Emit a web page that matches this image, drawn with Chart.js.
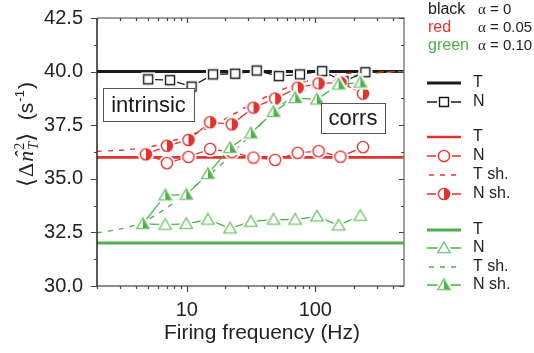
<!DOCTYPE html>
<html lang="en">
<head>
<meta charset="UTF-8">
<title>Variance vs firing frequency</title>
<script src="https://cdn.jsdelivr.net/npm/chart.js"></script>
<style>
  body { margin: 0; background: #fff; }
</style>
</head>
<body>
<canvas id="varChart" width="534" height="353"></canvas>
<script>
// axis ranges and tick labels
const xRange = [2, 490];
const xTickLabels = [10, 100];
const yTickLabels = [30.0, 32.5, 35.0, 37.5, 40.0, 42.5];

// firing frequencies (Hz) of the plotted points, per colour
const freqBlack = [5, 7.4, 10.9, 16, 23.8, 35, 52, 76, 113, 166, 245];
const freqRed = [4.8, 7, 10.3, 15.2, 22.4, 33, 48.7, 73, 106, 157, 235];
const freqGreen = [4.55, 6.8, 9.9, 14.6, 21.7, 31.5, 47.3, 69.8, 103, 152, 224];

// theory levels (T), flat in frequency
const tBlack = 40.0;
const tRed = 36.0;
const tGreen = 32.0;

// numerical values (N)
const nBlack = [39.64, 39.60, 39.30, 39.87, 39.90, 40.05, 39.79, 39.87, 40.02, 39.55, 39.97];
const nRed = [36.18, 35.73, 36.02, 36.39, 36.24, 35.99, 35.88, 36.21, 36.29, 36.03, 36.48];
const nGreen = [32.90, 32.86, 32.90, 33.10, 32.69, 33.00, 33.10, 33.10, 33.25, 32.83, 33.28];

// shuffled (sh.) theory curves and numerics
const freqTsh = [2, 3, 4, 5, 7, 10, 15, 20, 30, 50, 70, 100, 150, 200, 300, 490];
const tShRed = [36.28, 36.33, 36.40, 36.47, 36.70, 36.98, 37.40, 37.80, 38.40, 39.05, 39.40, 39.66, 39.85, 39.93, 39.98, 40.0];
const tShGreen = [32.48, 32.65, 32.85, 33.10, 33.65, 34.35, 35.20, 35.85, 36.95, 38.25, 38.90, 39.30, 39.62, 39.80, 39.93, 40.0];
const nShRed = [36.14, 36.54, 36.81, 37.64, 37.54, 38.32, 38.74, 39.25, 39.45, 39.49, 38.97];
const nShGreen = [32.90, 34.23, 34.26, 35.23, 36.44, 37.12, 38.12, 38.77, 38.70, 39.40, 39.49];

const BLACK = '#1a1a1a';
const RED = '#e5312c';
const GREEN = '#4caf4a';
const GREEN_LIGHT = '#74c56f';
const SANS = '"Liberation Sans", Arial, sans-serif';
const SERIF = '"Liberation Serif", "DejaVu Serif", serif';

function pairs(xs, ys) {
  return xs.map((x, i) => ({ x: x, y: ys[i] }));
}

// marker images with a white halo so lines stop short of the symbol
function marker(kind, color, fillHalf, outline) {
  const s = 20, m = s / 2;
  const c = document.createElement('canvas');
  c.width = s; c.height = s;
  const g = c.getContext('2d');
  function shape() {
    g.beginPath();
    if (kind === 'square') {
      g.rect(m - 4.5, m - 4.5, 9, 9);
    } else if (kind === 'circle') {
      g.arc(m, m, 5.6, 0, Math.PI * 2);
    } else {
      g.moveTo(m, m - 6);
      g.lineTo(m + 6.2, m + 4.6);
      g.lineTo(m - 6.2, m + 4.6);
      g.closePath();
    }
  }
  shape();
  g.fillStyle = '#fff';
  g.strokeStyle = '#fff';
  g.lineWidth = 5;
  g.stroke();
  g.fill();
  if (fillHalf) {
    g.beginPath();
    if (kind === 'circle') {
      g.arc(m, m, 5.6, -Math.PI / 2, Math.PI / 2);
    } else {
      g.moveTo(m, m - 6);
      g.lineTo(m + 6.2, m + 4.6);
      g.lineTo(m, m + 4.6);
    }
    g.closePath();
    g.fillStyle = color;
    g.fill();
  }
  shape();
  g.strokeStyle = outline || color;
  g.lineWidth = 1.4;
  g.stroke();
  return c;
}

const mkSquare = marker('square', BLACK, false);
const mkCircle = marker('circle', RED, false);
const mkCircleHalf = marker('circle', RED, true);
const mkTri = marker('triangle', GREEN, false, GREEN_LIGHT);
const mkTriHalf = marker('triangle', GREEN, true, GREEN_LIGHT);

const flat = v => [{ x: xRange[0], y: v }, { x: xRange[1], y: v }];

const datasets = [
  { label: 'black T', data: flat(tBlack), borderColor: BLACK, borderWidth: 3, pointRadius: 0, order: 10 },
  { label: 'black N', data: pairs(freqBlack, nBlack), borderColor: BLACK, borderWidth: 1.3, pointStyle: mkSquare, pointRadius: 6, order: 5 },
  { label: 'red T', data: flat(tRed), borderColor: RED, borderWidth: 2.6, pointRadius: 0, order: 10 },
  { label: 'red N', data: pairs(freqRed, nRed), borderColor: RED, borderWidth: 1.3, pointStyle: mkCircle, pointRadius: 6, order: 4 },
  { label: 'red T sh.', data: pairs(freqTsh, tShRed), borderColor: RED, borderWidth: 1.4, borderDash: [5, 6], pointRadius: 0, tension: 0.3, order: 9 },
  { label: 'red N sh.', data: pairs(freqRed, nShRed), borderColor: RED, borderWidth: 1.3, pointStyle: mkCircleHalf, pointRadius: 6, order: 2 },
  { label: 'green T', data: flat(tGreen), borderColor: GREEN, borderWidth: 3, pointRadius: 0, order: 10 },
  { label: 'green N', data: pairs(freqGreen, nGreen), borderColor: GREEN, borderWidth: 1.3, pointStyle: mkTri, pointRadius: 6, order: 3 },
  { label: 'green T sh.', data: pairs(freqTsh, tShGreen), borderColor: GREEN, borderWidth: 1.4, borderDash: [5, 6], pointRadius: 0, tension: 0.3, order: 9 },
  { label: 'green N sh.', data: pairs(freqGreen, nShGreen), borderColor: GREEN, borderWidth: 1.3, pointStyle: mkTriHalf, pointRadius: 6, order: 1 }
];
datasets.forEach(d => { d.showLine = true; d.fill = false; });

function drawYTitle(ctx) {
  ctx.save();
  ctx.translate(33, 134);
  ctx.rotate(-Math.PI / 2);
  ctx.fillStyle = '#222';
  ctx.textBaseline = 'alphabetic';
  const bigSerif = '22px ' + SERIF;
  const parts = [
    { t: '\u27E8', f: '23px "DejaVu Sans"', dy: 1 },
    { t: '\u0394', f: bigSerif, dy: 0 },
    { t: 'n', f: 'italic ' + bigSerif, dy: 0, hat: true },
    { t: '2', f: '14px ' + SERIF, dy: -9, sub: 'T' },
    { t: '\u27E9', f: '23px "DejaVu Sans"', dy: 1 },
    { t: '  (s', f: '21px ' + SANS, dy: 0 },
    { t: '-1', f: '13px ' + SANS, dy: -9 },
    { t: ')', f: '21px ' + SANS, dy: 0 }
  ];
  let total = 0;
  parts.forEach(p => {
    ctx.font = p.f;
    p.w = ctx.measureText(p.t).width + 1;
    total += p.w;
  });
  let cx = -total / 2;
  parts.forEach(p => {
    ctx.font = p.f;
    ctx.fillText(p.t, cx, p.dy);
    if (p.hat) {
      ctx.fillText('\u02C6', cx + 3, -3);
    }
    if (p.sub) {
      ctx.font = 'italic 14px ' + SERIF;
      ctx.fillText(p.sub, cx, 5);
    }
    cx += p.w;
  });
  ctx.restore();
}

function drawLegend(ctx) {
  ctx.save();
  ctx.textBaseline = 'middle';
  const heads = [['black', BLACK, '0', 10], ['red', RED, '0.05', 28], ['green', GREEN, '0.10', 46]];
  heads.forEach(h => {
    ctx.font = '16px ' + SANS;
    ctx.fillStyle = h[1];
    ctx.fillText(h[0], 428, h[3]);
    ctx.fillStyle = '#222';
    ctx.font = '15px ' + SERIF;
    ctx.fillText('\u03B1', 478, h[3]);
    const aw = ctx.measureText('\u03B1').width;
    ctx.font = '15px ' + SANS;
    ctx.fillText(' = ' + h[2], 478 + aw, h[3]);
  });
  const rows = [
    [83, 'T', BLACK, 3, null, null],
    [102, 'N', BLACK, 1.3, null, mkSquare],
    [137, 'T', RED, 2.6, null, null],
    [156, 'N', RED, 1.3, null, mkCircle],
    [175, 'T sh.', RED, 1.4, [5, 6], null],
    [194, 'N sh.', RED, 1.3, null, mkCircleHalf],
    [230, 'T', GREEN, 3, null, null],
    [248, 'N', GREEN, 1.3, null, mkTri],
    [267, 'T sh.', GREEN, 1.4, [5, 6], null],
    [285, 'N sh.', GREEN, 1.3, null, mkTriHalf]
  ];
  rows.forEach(r => {
    ctx.beginPath();
    ctx.setLineDash(r[4] || []);
    ctx.strokeStyle = r[2];
    ctx.lineWidth = r[3];
    ctx.moveTo(r[4] ? 429 : 427, r[0]);
    ctx.lineTo(461, r[0]);
    ctx.stroke();
    ctx.setLineDash([]);
    if (r[5]) ctx.drawImage(r[5], 444 - 10, r[0] - 10);
    ctx.fillStyle = '#222';
    ctx.font = '16px ' + SANS;
    ctx.fillText(r[1], 473, r[0]);
  });
  ctx.restore();
}

function labelBox(ctx, text, x, y, w, h) {
  ctx.save();
  ctx.fillStyle = '#fff';
  ctx.fillRect(x, y, w, h);
  ctx.strokeStyle = '#555';
  ctx.lineWidth = 1;
  ctx.strokeRect(x + 0.5, y + 0.5, w, h);
  ctx.fillStyle = '#1a1a1a';
  ctx.font = '22px ' + SANS;
  ctx.textAlign = 'center';
  ctx.textBaseline = 'middle';
  ctx.fillText(text, x + w / 2, y + h / 2 + 1);
  ctx.restore();
}

const decor = {
  id: 'decor',
  afterDraw(chart) {
    const ctx = chart.ctx, a = chart.chartArea;
    const xs = chart.scales.x, ys = chart.scales.y;
    ctx.save();
    ctx.lineWidth = 1.5;
    ctx.strokeStyle = '#808080';
    ctx.beginPath();
    ctx.moveTo(a.left, a.top); ctx.lineTo(a.right, a.top); ctx.lineTo(a.right, a.bottom);
    ctx.stroke();
    ctx.strokeStyle = '#666';
    ctx.beginPath();
    ctx.moveTo(a.left, a.bottom); ctx.lineTo(a.right, a.bottom);
    ctx.stroke();
    ctx.strokeStyle = '#222';
    ctx.beginPath();
    ctx.moveTo(a.left, a.top); ctx.lineTo(a.left, a.bottom + 0.75);
    ctx.stroke();

    // x ticks: outward at the bottom, inward at the top
    ctx.lineWidth = 1.2;
    ctx.strokeStyle = '#444';
    ctx.beginPath();
    [1, 10, 100].forEach(d => {
      for (let k = 1; k < 10; k++) {
        const v = d * k;
        if (v < xRange[0] || v > xRange[1]) continue;
        const px = Math.round(xs.getPixelForValue(v)) + 0.5;
        const major = k === 1;
        ctx.moveTo(px, a.bottom); ctx.lineTo(px, a.bottom + (major ? 6 : 3));
        ctx.moveTo(px, a.top); ctx.lineTo(px, a.top + (major ? 5 : 3));
      }
    });
    // y ticks: outward on the left, inward on the right
    for (let v = 30; v <= 42.5; v += 1.25) {
      const py = Math.round(ys.getPixelForValue(v)) + 0.5;
      const major = Math.abs(v / 2.5 - Math.round(v / 2.5)) < 1e-6;
      ctx.moveTo(a.left, py); ctx.lineTo(a.left - (major ? 6 : 3), py);
      ctx.moveTo(a.right, py); ctx.lineTo(a.right - (major ? 5 : 3), py);
    }
    ctx.stroke();

    // x title
    ctx.fillStyle = '#222';
    ctx.font = '21px ' + SANS;
    ctx.textAlign = 'center';
    ctx.textBaseline = 'middle';
    ctx.fillText('Firing frequency (Hz)', 262, 333);
    ctx.restore();

    drawYTitle(ctx);
    labelBox(ctx, 'intrinsic', 103, 88, 91, 33);
    labelBox(ctx, 'corrs', 321, 103, 64, 30);
    drawLegend(ctx);
  }
};

new Chart(document.getElementById('varChart'), {
  type: 'scatter',
  data: { datasets: datasets },
  options: {
    responsive: false,
    animation: false,
    devicePixelRatio: 1,
    layout: { padding: { left: 0, right: 130, top: 9, bottom: 0 } },
    plugins: { legend: { display: false }, tooltip: { enabled: false } },
    scales: {
      x: {
        type: 'logarithmic',
        min: xRange[0],
        max: xRange[1],
        grid: { display: false },
        border: { display: false },
        afterBuildTicks: s => { s.ticks = xTickLabels.map(v => ({ value: v })); },
        afterFit: s => { s.height = 67; },
        ticks: {
          autoSkip: false, maxRotation: 0, padding: 4, color: '#222',
          font: { family: SANS, size: 20 },
          callback: v => String(v)
        }
      },
      y: {
        min: 30,
        max: 42.5,
        grid: { display: false },
        border: { display: false },
        afterBuildTicks: s => { s.ticks = yTickLabels.map(v => ({ value: v })); },
        afterFit: s => { s.width = 97; },
        ticks: {
          padding: 6, color: '#222',
          font: { family: SANS, size: 20 },
          callback: v => v.toFixed(1)
        }
      }
    }
  },
  plugins: [decor]
});
</script>
</body>
</html>
